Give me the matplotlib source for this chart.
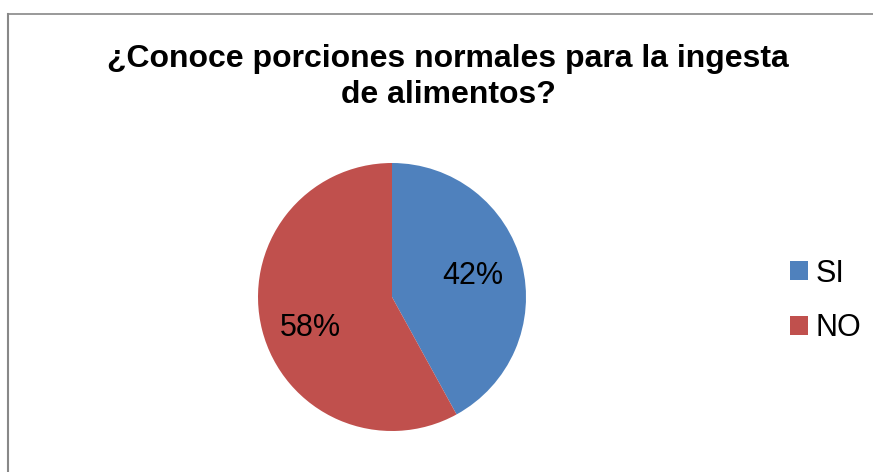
import matplotlib.pyplot as plt
from matplotlib.lines import Line2D

plt.rcParams['font.family'] = ['Liberation Sans', 'DejaVu Sans']

# datos
categorias = ['SI', 'NO']
porcentajes = [42, 58]
colores = ['#4F81BD', '#C0504D']
titulo = '¿Conoce porciones normales para la ingesta\nde alimentos?'

W, H = 873, 472
fig = plt.figure(figsize=(W / 100, H / 100), dpi=100)

# marco del grafico (solo borde superior e izquierdo visibles)
fig.add_artist(Line2D([8 / W, 1], [1 - 14 / H, 1 - 14 / H], color='#888888', lw=1.2))
fig.add_artist(Line2D([8 / W, 8 / W], [0, 1 - 14 / H], color='#888888', lw=1.5))

fig.text(448 / W, 1 - 77 / H, titulo, ha='center', va='center',
         fontsize=23, fontweight='bold', linespacing=1.3)

cx, cy, r = 392, 297, 134
ax = fig.add_axes([(cx - r) / W, (H - cy - r) / H, 2 * r / W, 2 * r / H])
wedges, textos = ax.pie(porcentajes, colors=colores, startangle=90, counterclock=False,
                        labels=[f'{p}%' for p in porcentajes], labeldistance=0.62,
                        textprops={'fontsize': 22, 'ha': 'center', 'va': 'center'})
# la etiqueta del NO queda un poco mas abajo en el original
x58, y58 = textos[1].get_position()
textos[1].set_position((x58 - 0.01, y58 - 0.08))
ax.set_xlim(-1, 1)
ax.set_ylim(-1, 1)
ax.set_aspect('equal')

fig.legend(wedges, categorias, loc='center left', bbox_to_anchor=(790 / W, 1 - 301 / H),
           frameon=False, fontsize=22, handlelength=0.58, handleheight=0.58,
           handletextpad=0.26, labelspacing=0.8, borderpad=0, borderaxespad=0)

fig.savefig('out.png', dpi=100, facecolor='white')
